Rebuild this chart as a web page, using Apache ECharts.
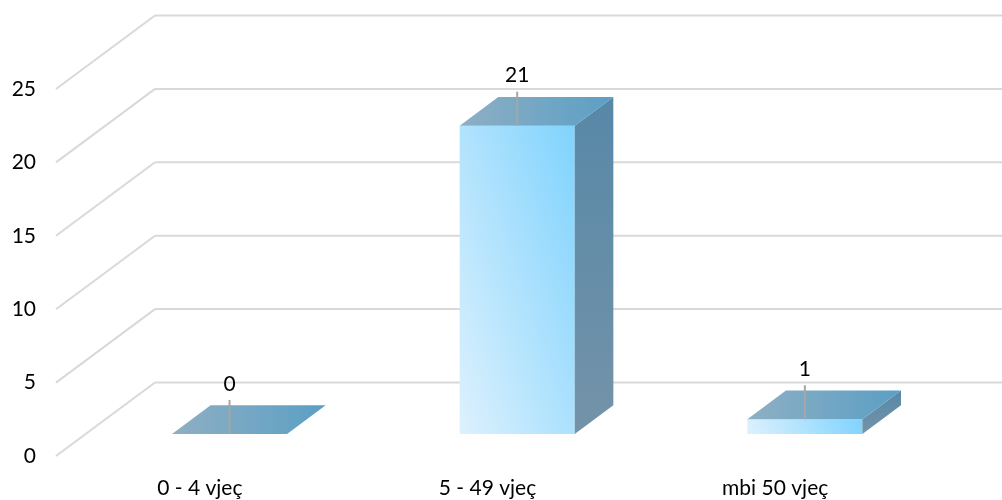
<!DOCTYPE html>
<html>
<head>
<meta charset="utf-8">
<script src="https://cdn.jsdelivr.net/npm/echarts@6/dist/echarts.min.js"></script>
<style>
  html, body { margin: 0; padding: 0; background: #ffffff; }
  #chart { width: 1002px; height: 500px; }
</style>
</head>
<body>
<div id="chart"></div>
<script>
// Age groups and counts
const categories = ['0 - 4 vjeç', '5 - 49 vjeç', 'mbi 50 vjeç'];
const values = [0, 21, 1];
const yTicks = [0, 5, 10, 15, 20, 25];

// Oblique projection of the plot box depth (pixels) and bar placement in it
const DEPTH_X = 99;
const DEPTH_Y = -73.5;
const BAR_FRONT = 0.3;
const BAR_BACK = 0.69;
const BAR_WIDTH = 0.4;
const FONT = 'Lato, "Noto Sans", sans-serif';
const GRID_COLOR = '#d9d9d9';
// Front face shading runs at a fixed angle (up and to the right)
const SHADE_ANGLE = 18 * Math.PI / 180;

// Back wall grid lines plus the diagonal lines that run up the side wall
function renderWall(params, api) {
  const v = api.value(1);
  const p = api.coord([0, v]);
  const cs = params.coordSys;
  const x0 = cs.x;
  const y = p[1];
  const style = { stroke: GRID_COLOR, lineWidth: 2 };
  return {
    type: 'group',
    children: [
      { type: 'line', shape: { x1: x0, y1: y, x2: x0 + DEPTH_X, y2: y + DEPTH_Y }, style: style },
      { type: 'line', shape: { x1: x0 + DEPTH_X, y1: y + DEPTH_Y, x2: x0 + DEPTH_X + cs.width, y2: y + DEPTH_Y }, style: style }
    ]
  };
}

function frontShade(L, yb, w, h) {
  const c = Math.cos(SHADE_ANGLE), s = Math.sin(SHADE_ANGLE);
  const extent = w * c + h * s;
  return new echarts.graphic.LinearGradient(L, yb, L + c * extent, yb - s * extent, [
    { offset: 0, color: '#ddf1fd' },
    { offset: 1, color: '#80d3fd' }
  ], true);
}

// Pseudo-3D box column with its value label
function renderBar(params, api) {
  const idx = api.value(0);
  const val = api.value(1);
  const base = api.coord([idx, 0]);
  const top = api.coord([idx, val]);
  const band = api.size([1, 0])[0];
  const hw = band * BAR_WIDTH / 2;
  const fx = DEPTH_X * BAR_FRONT, fy = DEPTH_Y * BAR_FRONT;
  const ddx = DEPTH_X * (BAR_BACK - BAR_FRONT), ddy = DEPTH_Y * (BAR_BACK - BAR_FRONT);
  const L = base[0] - hw + fx, R = base[0] + hw + fx;
  const yb = base[1] + fy, yt = top[1] + fy;
  const cx = (L + R) / 2;
  const children = [];

  if (yb - yt > 0.5) {
    children.push({
      type: 'rect',
      shape: { x: L, y: yt, width: R - L, height: yb - yt },
      style: { fill: frontShade(L, yb, R - L, yb - yt) }
    });
    children.push({
      type: 'polygon',
      shape: { points: [[R, yt], [R + ddx, yt + ddy], [R + ddx, yb + ddy], [R, yb]] },
      style: {
        fill: new echarts.graphic.LinearGradient(0, 0, 0, 1, [
          { offset: 0, color: '#5788a7' },
          { offset: 1, color: '#7493a9' }
        ])
      }
    });
  }
  children.push({
    type: 'polygon',
    shape: { points: [[L, yt], [R, yt], [R + ddx, yt + ddy], [L + ddx, yt + ddy]] },
    style: {
      fill: new echarts.graphic.LinearGradient(0, 0, 1, 0, [
        { offset: 0, color: '#8eafc3' },
        { offset: 1, color: '#5b9fc5' }
      ])
    }
  });
  children.push({
    type: 'line',
    shape: { x1: cx, y1: yt, x2: cx, y2: yt - 34 },
    style: { stroke: '#a6a6a6', lineWidth: 2 }
  });
  children.push({
    type: 'text',
    style: {
      x: cx, y: yt - 50,
      text: String(val),
      fill: '#000000',
      font: '21px ' + FONT,
      textAlign: 'center',
      textVerticalAlign: 'middle'
    }
  });
  return { type: 'group', children: children };
}

const chart = echarts.init(document.getElementById('chart'), null, { renderer: 'canvas' });
chart.setOption({
  backgroundColor: '#ffffff',
  animation: false,
  grid: { left: 56, right: 83, top: 89, bottom: 44, containLabel: false },
  xAxis: {
    type: 'category',
    data: categories,
    axisLine: { show: false },
    axisTick: { show: false },
    splitLine: { show: false },
    axisLabel: { margin: 22, fontSize: 21, fontFamily: FONT, color: '#000000' }
  },
  yAxis: {
    type: 'value',
    min: 0,
    max: 25,
    interval: 5,
    axisLine: { show: false },
    axisTick: { show: false },
    splitLine: { show: false },
    axisLabel: { margin: 20, fontSize: 21, fontFamily: FONT, color: '#000000' }
  },
  series: [
    {
      type: 'custom',
      name: 'walls',
      renderItem: renderWall,
      data: yTicks.map(function (v) { return [0, v]; }),
      encode: { x: 0, y: 1 },
      silent: true,
      z: 1
    },
    {
      type: 'custom',
      name: 'values',
      renderItem: renderBar,
      data: values.map(function (v, i) { return [i, v]; }),
      encode: { x: 0, y: 1 },
      z: 2
    }
  ]
});
</script>
</body>
</html>
